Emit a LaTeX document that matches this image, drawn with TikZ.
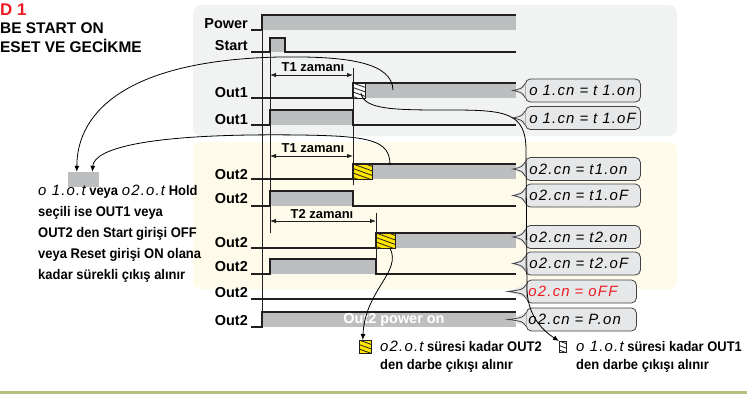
\documentclass[tikz,border=0pt]{standalone}
\usepackage{fontspec}
\setmainfont{Liberation Sans}
\newfontfamily\cond[FakeStretch=0.93]{Liberation Sans}
\newfontfamily\lcdfam[LetterSpace=8]{Liberation Sans}
\newcommand{\lcd}{\lcdfam\mdseries\itshape\fontsize{15}{17}\selectfont}
\usetikzlibrary{arrows.meta}
\definecolor{panelgray}{HTML}{F1F2F2}
\definecolor{panelyel}{HTML}{FFFBEA}
\definecolor{sig}{HTML}{BCBEC0}
\definecolor{ink}{HTML}{231F20}
\definecolor{bubfill}{HTML}{E6E7E8}
\definecolor{bubline}{HTML}{414042}
\definecolor{hatchyel}{HTML}{FFE600}
\definecolor{redt}{HTML}{ED1C24}
\definecolor{olivel}{HTML}{B5C07F}
\newcommand{\hatchbox}[5]{%
  \fill[#5] (#1,#2) rectangle (#3,#4);
  \begin{scope}
    \clip (#1,#2) rectangle (#3,#4);
    \foreach \k in {-4,...,4} \draw[ink, line width=0.8bp] (#1,#2+\k*4.5) -- ++(25,9);
  \end{scope}
  \draw[ink, line width=0.9bp] (#1,#2) rectangle (#3,#4);}
\newcommand{\ptr}[2]{%
  \fill[bubfill] ([xshift=0.7bp,yshift=7bp]#1.west) -- ([xshift=-#2]#1.west) -- ([xshift=0.7bp,yshift=-7bp]#1.west) -- cycle;
  \draw[bubline, line width=0.8bp] ([yshift=7bp]#1.west) .. controls ([xshift=-3bp,yshift=2bp]#1.west) .. ([xshift=-#2]#1.west) .. controls ([xshift=-3bp,yshift=-2bp]#1.west) .. ([yshift=-7bp]#1.west);}
\begin{document}
\begin{tikzpicture}[x=1bp,y=-1bp,
  wave/.style={draw=ink, line width=1.1bp, line join=miter},
  guide/.style={draw=ink, line width=1bp},
  rowlab/.style={anchor=base east, inner sep=0, font=\bfseries\fontsize{14.5}{16}\selectfont},
  tlab/.style={anchor=base, inner sep=0, font=\bfseries\fontsize{13}{15}\selectfont},
  dimline/.style={draw=ink, line width=0.8bp, {Latex[length=6bp,width=4.5bp]}-{Latex[length=6bp,width=4.5bp]}},
  bubble/.style={draw=bubline, fill=bubfill, rounded corners=5bp, line width=0.8bp, minimum height=23bp, text width=107bp, inner xsep=4bp, inner ysep=0pt, anchor=west, align=left, font=\lcd},
  curve/.style={draw=black, line width=0.8bp},
  carrow/.style={curve, -{Latex[length=6bp,width=5bp]}},
  body/.style={anchor=base west, inner sep=0, font=\cond\bfseries\fontsize{14}{16}\selectfont}
]
\useasboundingbox (0,0) rectangle (747,394);
\clip (0,0) rectangle (747,394);

% panels
\fill[panelgray, rounded corners=8bp] (193,5) rectangle (677,136);
\fill[panelyel, rounded corners=8bp] (193,142) rectangle (677,289);
\fill[olivel] (0,391) rectangle (747,394);

% title
\node[anchor=base west, inner sep=0, text=redt, font=\bfseries\fontsize{17}{20}\selectfont] (t0) at (0,15) {D 1};
\node[anchor=base west, inner sep=0, font=\bfseries\fontsize{15.5}{18}\selectfont] (t1) at (0,33) {BE START ON};
\node[anchor=base west, inner sep=0, font=\bfseries\fontsize{15.5}{18}\selectfont] (t2) at (0,52) {ESET VE GECİKME};

% row labels
\node[rowlab] (lpow) at (248,28) {Power};
\node[rowlab] (lsta) at (248,50) {Start};
\node[rowlab] (lo1a) at (248,97) {Out1};
\node[rowlab] (lo1b) at (248,124) {Out1};
\node[rowlab] (lo2a) at (248,179) {Out2};
\node[rowlab] (lo2b) at (248,203) {Out2};
\node[rowlab] (lo2c) at (248,247) {Out2};
\node[rowlab] (lo2d) at (248,271) {Out2};
\node[rowlab] (lo2e) at (248,297) {Out2};
\node[rowlab] (lo2f) at (248,325) {Out2};

% Power
\fill[sig] (262,15) rectangle (516,30);
\draw[wave] (251,30) -- (262,30) -- (262,15) -- (516,15);
\draw[guide] (262,30) -- (262,327);
% Start
\fill[sig] (270,38) rectangle (285,52);
\draw[wave] (251,52) -- (270,52) -- (270,38) -- (285,38) -- (285,52) -- (516,52);
\draw[guide] (270,52) -- (270,233);
% T1 (panel 1)
\draw[dimline] (270,75) -- (353,75);
\node[tlab] (tz1) at (313,71) {T1 zamanı};
\draw[guide] (353,68) -- (353,185);
% Out1 a
\fill[sig] (365,83) rectangle (516,98);
\hatchbox{353}{83}{365}{98}{white}
\draw[wave] (251,98) -- (353,98) -- (353,83) -- (516,83);
% Out1 b
\fill[sig] (270,110) rectangle (353,125);
\draw[wave] (251,125) -- (270,125) -- (270,110) -- (353,110) -- (353,125) -- (516,125);
% T1 (panel 2)
\draw[dimline] (270,156) -- (353,156);
\node[tlab] (tz2) at (313,152) {T1 zamanı};
% Out2 a
\fill[sig] (372,164) rectangle (516,179);
\hatchbox{353}{164}{372}{179}{hatchyel}
\draw[wave] (251,179) -- (353,179) -- (353,164) -- (516,164);
% Out2 b
\fill[sig] (270,191) rectangle (353,206);
\draw[wave] (251,206) -- (270,206) -- (270,191) -- (353,191) -- (353,206) -- (516,206);
% T2
\draw[dimline] (270,221) -- (376,221);
\node[tlab] (tz3) at (322,218) {T2 zamanı};
\draw[guide] (376,213) -- (376,274);
% Out2 c
\fill[sig] (395,233) rectangle (516,248);
\hatchbox{376}{233}{395}{248}{hatchyel}
\draw[wave] (251,248) -- (376,248) -- (376,233) -- (516,233);
% Out2 d
\fill[sig] (270,259) rectangle (376,274);
\draw[wave] (251,274) -- (270,274) -- (270,259) -- (376,259) -- (376,274) -- (516,274);
% Out2 e
\draw[wave] (251,299) -- (516,299);
% Out2 f
\fill[sig] (262,312) rectangle (516,327);
\draw[wave] (251,327) -- (262,327) -- (262,312) -- (516,312);
\node[text=white, inner sep=0, font=\bfseries\fontsize{14.5}{16}\selectfont] (pwon) at (394,320) {Out2 power on};

% bubbles
\node[bubble] (b1) at (525,90.5) {o 1.cn = t 1.on};
\node[bubble] (b2) at (525,118) {o 1.cn = t 1.oF};
\node[bubble] (b3) at (525,169) {o2.cn = t1.on};
\node[bubble] (b4) at (525,195.5) {o2.cn = t1.oF};
\node[bubble] (b5) at (525,237) {o2.cn = t2.on};
\node[bubble] (b6) at (525,263.5) {o2.cn = t2.oF};
\node[bubble, text width=106bp, inner xsep=2bp, text=redt] (b7) at (526,291.5) {o2.cn = oFF};
\node[bubble, text width=106bp, inner xsep=2bp] (b8) at (526,319.5) {o2.cn = P.on};
\ptr{b1}{12bp}\ptr{b2}{12bp}\ptr{b3}{12bp}\ptr{b4}{12bp}
\ptr{b5}{12bp}\ptr{b6}{12bp}\ptr{b7}{18bp}\ptr{b8}{18bp}

% hold box and left text
\node[fill=sig, minimum width=31bp, minimum height=15bp, inner sep=0] (hbox) at (83.5,179.5) {};
\node[body] (lt1) at (38,195) {{\lcd o 1.o.t} veya {\lcd o2.o.t} Hold};
\node[body] (lt2) at (38,216) {seçili ise OUT1 veya};
\node[body] (lt3) at (38,237) {OUT2 den Start girişi OFF};
\node[body] (lt4) at (38,258) {veya Reset girişi ON olana};
\node[body] (lt5) at (38,279) {kadar sürekli çıkış alınır};

% legend
\node[minimum width=12bp, minimum height=13bp, inner sep=0, anchor=north west] (lg2) at (359,340) {};
\hatchbox{359}{340}{371}{353}{hatchyel}
\node[minimum width=7bp, minimum height=11bp, inner sep=0, anchor=north west] (lg1) at (559,341) {};
\hatchbox{559}{341}{566}{352}{white}
\node[body] (lg2a) at (380,351) {{\lcd o2.o.t} süresi kadar OUT2};
\node[body] (lg2b) at (380,369) {den darbe çıkışı alınır};
\node[body] (lg1a) at (576,351) {{\lcd o 1.o.t} süresi kadar OUT1};
\node[body] (lg1b) at (576,369) {den darbe çıkışı alınır};

% curves
\coordinate (c1) at (393,90);
\coordinate (c2) at (390,165);
\coordinate (c3) at (361,93);
\coordinate (c4) at (390,248);
\draw[carrow] (c1) .. controls (392,63) and (350,56) .. (280,57) .. controls (130,60) and (77,110) .. (hbox.131);
\draw[carrow] (c2) .. controls (390,140) and (370,136) .. (300,135) .. controls (150,133) and (94,148) .. (hbox.41);
\draw[carrow] (c3) .. controls (364,110) and (395,110) .. (450,110) .. controls (505,110) and (526,112) .. (526,150) -- (527,290) .. controls (528,318) and (545,332) .. (lg1.north west);
\draw[carrow] (c4) .. controls (402,272) and (365,290) .. (lg2.110);
\end{tikzpicture}
\end{document}
